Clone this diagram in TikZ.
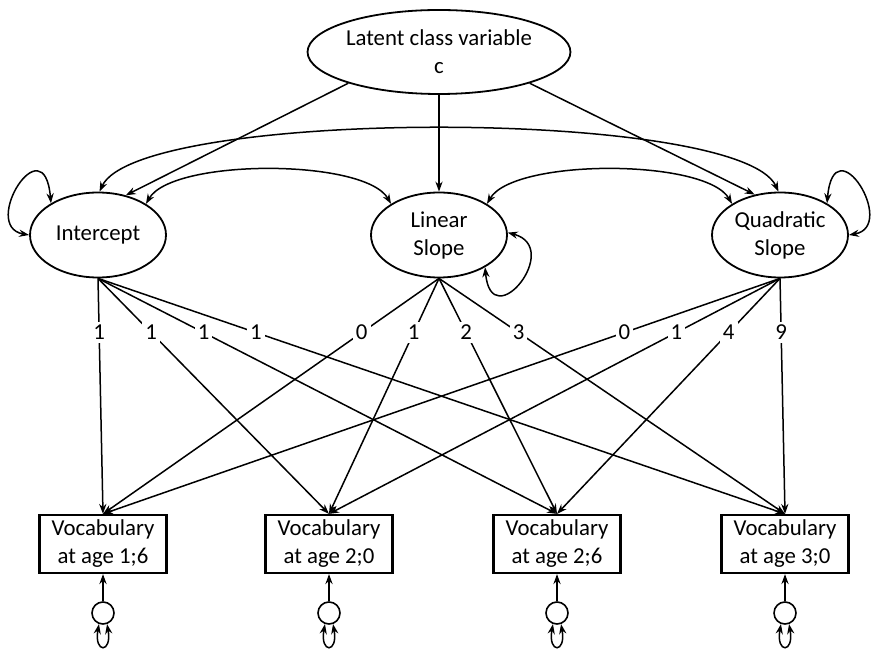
\documentclass[tikz,border=0pt]{standalone}
\usepackage{fontspec}
\setmainfont{Carlito}
\usetikzlibrary{shapes.geometric,arrows.meta}
\tikzset{
  latent/.style={ellipse,draw,line width=0.9pt,inner sep=0pt,minimum width=68pt,minimum height=42.5pt,align=center},
  observed/.style={rectangle,draw,line width=1.1pt,inner sep=0pt,minimum width=63.5pt,minimum height=29pt,align=center},
  resid/.style={circle,draw,line width=0.8pt,inner sep=0pt,minimum size=11pt},
  conn/.style={line width=0.75pt,-{Stealth[length=5pt,width=3.6pt]}},
  covar/.style={line width=0.75pt,{Stealth[length=5pt,width=3.6pt]}-{Stealth[length=5pt,width=3.6pt]}},
  load/.style={fill=white,inner sep=1.5pt,pos=0.23}
}
\begin{document}
\begin{tikzpicture}[x=0.5pt,y=0.5pt,font=\fontsize{11.4}{14}\selectfont]
  \useasboundingbox (0,0) rectangle (871,648);
  % latent part
  \node[latent,minimum width=124pt,minimum height=42pt] (lat) at (439,596) {Latent class variable\\c};
  \node[latent] (int) at (98,413) {Intercept};
  \node[latent] (lin) at (439,413) {Linear\\Slope};
  \node[latent] (quad) at (780,413) {Quadratic\\Slope};
  \draw[conn] (lat.199) -- (int.55);
  \draw[conn] (lat.south) -- (lin.north);
  \draw[conn] (lat.-19) -- (quad.122);
  % covariances and variances
  \draw[covar] (int.88) to[out=65,in=115,looseness=0.35] (quad.92);
  \draw[covar] (int.33) to[out=60,in=120,looseness=0.55] (lin.147);
  \draw[covar] (lin.33) to[out=60,in=120,looseness=0.55] (quad.147);
  \draw[covar] (int.146) .. controls +(95:40pt) and +(170:25pt) .. (int.180);
  \draw[covar] (quad.34) .. controls +(85:40pt) and +(10:25pt) .. (quad.0);
  \draw[covar] (lin.2) .. controls +(-15:29pt) and +(-85:35pt) .. (lin.-35);
  % observed part
  \foreach \i/\x/\age in {1/103/1;6,2/329/2;0,3/557/2;6,4/785/3;0}{
    \node[observed] (b\i) at (\x,104) {Vocabulary\\at age \age};
    \node[resid] (e\i) at (\x,35) {};
    \draw[conn] (e\i) -- (b\i);
    \draw[covar] (e\i.-110) .. controls +(-100:15pt) and +(-80:15pt) .. (e\i.-70);
  }
  % loadings
  \foreach \b/\l in {1/1,2/1,3/1,4/1}
    \draw[conn] (int.south) -- node[load]{\l} (b\b.north);
  \foreach \b/\l in {1/0,2/1,3/2,4/3}
    \draw[conn] (lin.south) -- node[load]{\l} (b\b.north);
  \foreach \b/\l in {1/0,2/1,3/4,4/9}
    \draw[conn] (quad.south) -- node[load]{\l} (b\b.north);
\end{tikzpicture}
\end{document}
